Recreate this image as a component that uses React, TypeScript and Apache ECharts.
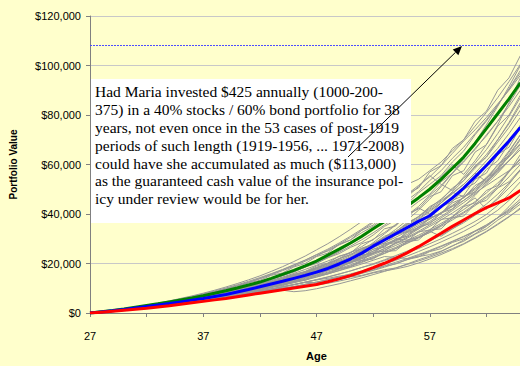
import React, { useEffect, useRef } from "react";
import * as echarts from "echarts";

// Ages on the category axis (axis runs to 67; the picture is cropped near 65)
const ages = [27, 28, 29, 30, 31, 32, 33, 34, 35, 36, 37, 38, 39, 40, 41, 42, 43, 44, 45, 46, 47, 48, 49, 50, 51, 52, 53, 54, 55, 56, 57, 58, 59, 60, 61, 62, 63, 64, 65, 66, 67];
const shownAgeLabels = [27, 37, 47, 57];

// Highlighted cases (portfolio value, thousands of $)
const greenCase = [0, 0.5, 1.0, 1.6, 2.3, 3.0, 3.7, 4.5, 5.3, 6.1, 7.0, 8.0, 9.0, 10.1, 11.3, 12.5, 14.0, 15.6, 17.2, 19.0, 21.0, 23.4, 25.8, 28.3, 31.0, 34.0, 37.0, 40.0, 43.2, 46.5, 50.0, 54.0, 58.5, 63.0, 68.5, 74.5, 80.5, 86.5, 93.0];
const blueCase = [0, 0.45, 0.9, 1.4, 2.0, 2.6, 3.2, 3.8, 4.5, 5.2, 5.9, 6.7, 7.5, 8.5, 9.5, 10.6, 11.7, 12.8, 14.0, 15.2, 16.5, 18.0, 19.8, 21.8, 24.2, 27.0, 29.5, 32.0, 34.5, 37.0, 39.3, 43.0, 46.5, 50.5, 55.0, 59.6, 64.5, 69.5, 75.0];
const redCase = [0, 0.35, 0.7, 1.1, 1.5, 1.9, 2.4, 2.9, 3.5, 4.1, 4.7, 5.3, 5.9, 6.6, 7.3, 8.0, 8.7, 9.4, 10.1, 10.8, 11.5, 12.6, 13.8, 15.1, 16.6, 18.3, 20.1, 22.1, 24.3, 26.8, 29.5, 32.2, 35.0, 37.6, 40.2, 42.6, 44.5, 46.5, 49.5];

// Other historical periods (thousands of $)
const gray1 = [0, 0.5, 1.0, 1.6, 2.3, 3.0, 3.8, 4.6, 5.6, 6.4, 7.5, 8.3, 9.6, 10.6, 12.2, 13.2, 15.2, 16.2, 18.6, 20.0, 22.8, 24.2, 27.8, 29.5, 33.5, 35.5, 40.0, 42.5, 48.0, 50.5, 57.0, 59.5, 66.5, 70.0, 77.5, 81.5, 90.0, 95.0, 104.0];
const gray2 = [0, 0.5, 1.0, 1.5, 2.2, 2.9, 3.5, 4.3, 5.0, 5.9, 6.9, 7.7, 8.8, 9.8, 11.1, 12.2, 13.8, 15.0, 16.9, 18.5, 20.8, 22.5, 25.0, 27.9, 30.5, 34.0, 36.5, 40.5, 44.0, 48.5, 52.0, 55.5, 61.0, 65.5, 72.0, 77.5, 84.0, 90.5, 98.0];
const gray3 = [0, 0.45, 0.95, 1.5, 2.1, 2.8, 3.4, 4.1, 4.9, 5.7, 6.5, 7.3, 8.3, 9.3, 10.3, 11.5, 12.6, 14.0, 15.6, 16.8, 19.0, 20.2, 23.0, 24.2, 28.0, 29.5, 34.0, 35.2, 40.0, 42.0, 47.0, 49.0, 55.5, 57.5, 65.0, 68.0, 75.5, 80.0, 88.0];
const gray4 = [0, 0.5, 0.95, 1.5, 2.1, 2.7, 3.4, 4.0, 4.8, 5.5, 6.4, 7.2, 8.1, 9.0, 10.2, 11.2, 12.5, 13.6, 15.1, 16.5, 18.2, 20.0, 22.0, 24.5, 26.8, 29.8, 32.5, 35.8, 39.0, 42.5, 40.0, 44.5, 49.0, 53.5, 58.5, 63.0, 69.0, 75.0, 82.0];
const gray5 = [0, 0.45, 0.9, 1.45, 2.0, 2.6, 3.3, 3.9, 4.6, 5.4, 6.1, 6.9, 7.8, 8.7, 9.8, 10.8, 12.0, 13.2, 14.3, 15.8, 17.2, 18.6, 20.6, 22.4, 25.0, 27.3, 30.0, 32.4, 35.5, 38.2, 41.5, 44.5, 48.5, 52.0, 56.5, 61.5, 66.5, 72.5, 79.0];
const gray6 = [0, 0.4, 0.85, 1.35, 1.9, 2.5, 3.1, 3.7, 4.4, 5.1, 5.8, 6.5, 7.4, 8.2, 9.2, 10.2, 11.2, 12.4, 13.8, 14.5, 16.5, 17.2, 19.6, 20.4, 23.5, 24.2, 28.0, 29.0, 32.8, 34.5, 38.5, 40.0, 44.5, 46.5, 51.5, 54.0, 60.0, 63.5, 70.0];
const gray7 = [0, 0.45, 0.9, 1.4, 2.0, 2.6, 3.2, 3.9, 4.6, 5.3, 6.1, 6.9, 7.8, 8.8, 9.8, 11.0, 12.2, 13.5, 14.9, 16.4, 18.0, 19.8, 21.5, 20.5, 22.5, 25.0, 27.0, 29.5, 31.0, 34.0, 36.5, 39.0, 42.0, 45.5, 49.0, 53.0, 57.0, 61.5, 66.0];
const gray8 = [0, 0.4, 0.85, 1.3, 1.85, 2.4, 3.0, 3.6, 4.2, 4.9, 5.6, 6.3, 7.1, 7.9, 8.8, 9.8, 10.8, 11.8, 12.6, 14.6, 15.2, 17.5, 18.0, 20.8, 21.2, 24.5, 25.0, 28.5, 29.0, 32.8, 33.5, 37.8, 38.5, 43.0, 44.5, 49.5, 51.5, 57.5, 62.0];
const gray9 = [0, 0.4, 0.8, 1.25, 1.75, 2.3, 2.9, 3.5, 4.1, 4.8, 5.5, 6.2, 6.9, 7.7, 8.6, 9.2, 10.6, 11.0, 12.8, 13.2, 15.2, 15.8, 18.0, 18.6, 21.2, 21.8, 24.8, 25.2, 28.8, 29.5, 33.5, 34.0, 38.5, 39.2, 44.0, 45.5, 50.5, 53.0, 58.0];
const gray10 = [0, 0.4, 0.8, 1.25, 1.7, 2.2, 2.8, 3.3, 3.9, 4.5, 5.1, 5.8, 6.5, 7.2, 8.0, 8.8, 9.6, 10.5, 11.4, 12.4, 13.4, 14.5, 15.7, 17.0, 18.4, 19.9, 21.5, 23.2, 25.0, 27.0, 29.0, 31.5, 34.0, 36.5, 39.5, 42.5, 46.0, 50.5, 55.0];
const gray11 = [0, 0.38, 0.78, 1.2, 1.65, 2.15, 2.7, 3.2, 3.8, 4.4, 5.0, 5.6, 6.2, 6.9, 7.6, 8.3, 9.1, 9.9, 10.7, 11.6, 12.5, 13.5, 14.6, 15.8, 17.0, 18.3, 19.8, 21.3, 23.0, 24.8, 26.7, 28.7, 30.8, 33.0, 35.5, 38.5, 41.5, 45.5, 50.0];
const gray12 = [0, 0.38, 0.76, 1.18, 1.62, 2.1, 2.6, 3.1, 3.65, 4.2, 4.8, 5.4, 6.0, 6.6, 7.3, 8.0, 8.7, 9.4, 10.2, 11.0, 11.8, 12.7, 13.7, 14.8, 16.0, 17.2, 18.5, 20.0, 21.5, 23.2, 25.0, 26.8, 28.8, 30.8, 33.0, 35.5, 38.5, 41.5, 45.0];
const gray13 = [0, 0.5, 1.0, 1.55, 2.2, 2.8, 3.5, 4.3, 5.2, 6.0, 6.8, 7.8, 8.8, 10.0, 11.0, 12.0, 13.6, 15.2, 16.5, 18.6, 20.0, 22.3, 24.0, 26.5, 28.5, 31.5, 35.0, 37.5, 41.5, 45.0, 48.0, 53.0, 56.5, 61.5, 66.0, 72.0, 77.5, 84.5, 92.0];
const gray14 = [0, 0.45, 0.95, 1.45, 2.05, 2.7, 3.3, 4.0, 4.7, 5.5, 6.3, 7.1, 8.0, 9.0, 10.0, 11.1, 12.3, 13.5, 14.8, 16.2, 17.8, 19.4, 21.2, 23.2, 25.4, 27.8, 30.4, 33.0, 36.0, 39.0, 42.5, 46.0, 50.0, 54.5, 59.0, 64.0, 70.0, 77.0, 85.0];
const gray15 = [0, 0.45, 0.9, 1.4, 1.95, 2.6, 3.2, 3.9, 4.6, 5.3, 6.0, 6.8, 7.7, 8.6, 9.6, 10.7, 11.8, 13.0, 14.3, 15.7, 17.2, 18.8, 20.5, 22.4, 24.4, 26.8, 29.2, 31.8, 34.8, 37.8, 41.0, 44.5, 48.2, 52.0, 56.5, 53.0, 58.5, 65.0, 72.0];
const gray16 = [0, 0.4, 0.85, 1.35, 1.9, 2.45, 3.05, 3.65, 4.3, 5.0, 5.7, 6.4, 7.2, 8.0, 8.9, 9.9, 10.9, 12.0, 13.1, 14.3, 15.6, 17.0, 18.5, 20.2, 22.0, 24.0, 26.0, 28.3, 30.6, 33.0, 35.6, 38.4, 41.4, 44.6, 48.0, 52.0, 56.5, 61.5, 67.0];
const gray17 = [0, 0.4, 0.82, 1.28, 1.8, 2.35, 2.9, 3.5, 4.1, 4.8, 5.4, 6.1, 6.8, 7.6, 8.4, 9.3, 10.2, 11.2, 12.2, 13.3, 14.5, 15.8, 17.2, 18.8, 20.4, 22.2, 24.0, 26.0, 28.3, 30.5, 33.0, 31.0, 34.0, 37.0, 40.5, 44.0, 48.0, 52.5, 57.5];
const gray18 = [0, 0.5, 1.0, 1.55, 2.15, 2.8, 3.5, 4.2, 5.0, 5.8, 6.7, 7.6, 8.6, 9.6, 10.7, 11.9, 13.2, 14.5, 16.0, 17.6, 19.3, 21.0, 22.8, 24.5, 26.0, 27.8, 29.5, 31.5, 33.5, 36.0, 38.0, 40.5, 43.0, 45.5, 48.5, 51.5, 54.5, 57.5, 61.0];
const gray19 = [0, 0.45, 0.9, 1.4, 1.95, 2.55, 3.2, 3.85, 4.5, 5.2, 6.0, 6.8, 7.6, 8.5, 9.5, 10.5, 11.6, 12.8, 14.0, 15.4, 16.9, 18.6, 20.4, 22.5, 24.8, 27.5, 30.5, 33.8, 37.5, 41.5, 46.0, 51.0, 56.5, 62.5, 69.0, 76.0, 83.5, 91.5, 100.0];
const gray20 = [0, 0.5, 1.0, 1.55, 2.15, 2.8, 3.5, 4.25, 5.05, 5.9, 6.8, 7.7, 8.7, 9.8, 11.0, 12.3, 13.7, 15.2, 16.8, 18.5, 20.4, 22.4, 24.6, 27.0, 29.6, 32.4, 35.5, 38.8, 42.4, 46.3, 50.5, 55.0, 59.8, 56.0, 61.5, 68.0, 76.0, 85.0, 95.0];
const gray21 = [0, 0.45, 0.9, 1.4, 1.95, 2.5, 3.1, 3.8, 4.5, 5.3, 6.0, 6.9, 7.7, 8.7, 9.6, 10.8, 11.8, 13.2, 14.2, 15.9, 17.0, 19.0, 20.2, 22.6, 24.0, 26.8, 28.2, 31.5, 33.0, 36.8, 38.6, 43.0, 45.0, 50.0, 52.5, 58.0, 61.5, 68.5, 76.0];
const gray22 = [0, 0.42, 0.85, 1.3, 1.8, 2.35, 2.95, 3.55, 4.2, 4.9, 5.6, 6.3, 7.1, 7.9, 8.8, 9.7, 10.7, 11.7, 12.8, 14.0, 15.3, 16.5, 18.0, 19.5, 21.2, 22.8, 24.8, 26.5, 28.8, 30.8, 33.2, 35.5, 38.2, 40.8, 44.0, 47.2, 51.0, 57.0, 64.0];
const gray23 = [0, 0.38, 0.8, 1.22, 1.68, 2.18, 2.72, 3.28, 3.86, 4.48, 5.1, 5.8, 6.5, 7.2, 8.0, 8.8, 9.7, 10.6, 11.5, 12.5, 13.5, 14.6, 15.8, 17.0, 18.4, 19.6, 21.2, 22.6, 24.4, 26.0, 28.0, 30.0, 32.2, 34.5, 37.0, 39.8, 43.5, 48.0, 53.0];
const gray24 = [0, 0.5, 1.0, 1.55, 2.15, 2.8, 3.5, 4.2, 5.0, 5.8, 6.7, 7.6, 8.6, 9.6, 10.7, 11.8, 13.0, 14.3, 15.6, 16.5, 17.2, 18.4, 20.2, 22.5, 25.2, 28.4, 32.0, 35.5, 39.5, 43.0, 47.5, 51.5, 56.5, 61.0, 66.5, 71.5, 77.5, 83.5, 90.0];
const gray25 = [0, 0.45, 0.9, 1.4, 1.95, 2.55, 3.15, 3.8, 4.5, 5.2, 5.9, 6.7, 7.5, 8.4, 9.3, 10.3, 11.3, 12.4, 13.6, 14.8, 16.1, 17.5, 19.0, 20.6, 22.3, 24.1, 26.0, 28.0, 30.2, 32.5, 35.0, 37.6, 40.4, 43.4, 46.5, 42.0, 46.5, 52.0, 58.0];
const gray26 = [0, 0.42, 0.88, 1.38, 1.92, 2.5, 3.1, 3.75, 4.4, 5.1, 5.85, 6.6, 7.45, 8.3, 9.25, 10.2, 11.3, 12.4, 13.6, 14.9, 16.2, 17.8, 19.3, 21.1, 22.9, 25.0, 27.0, 29.4, 31.7, 34.5, 37.0, 40.2, 43.2, 46.8, 50.5, 54.8, 59.5, 65.5, 72.0];
const gray27 = [0, 0.48, 0.98, 1.5, 2.05, 2.7, 3.35, 4.05, 4.8, 5.55, 6.4, 7.2, 8.2, 9.1, 10.2, 11.2, 12.6, 13.7, 15.3, 16.6, 18.5, 19.8, 22.0, 23.5, 26.2, 27.8, 31.0, 32.8, 36.5, 38.8, 43.0, 45.5, 50.5, 53.5, 59.5, 63.0, 70.0, 76.5, 84.0];
const gray28 = [0, 0.38, 0.78, 1.2, 1.64, 2.12, 2.64, 3.18, 3.74, 4.32, 4.92, 5.55, 6.2, 6.88, 7.6, 8.35, 9.1, 9.9, 10.7, 11.6, 12.5, 13.4, 14.4, 15.5, 16.6, 17.8, 19.1, 20.5, 22.0, 23.6, 25.3, 27.1, 29.0, 31.0, 33.2, 35.6, 38.5, 43.0, 48.0];
const gray29 = [0, 0.45, 0.92, 1.42, 1.98, 2.6, 3.25, 3.95, 4.7, 5.5, 6.35, 7.2, 8.15, 9.1, 10.2, 11.3, 12.5, 13.8, 15.2, 16.7, 18.3, 20.0, 21.8, 23.7, 25.8, 28.0, 30.5, 33.0, 35.8, 38.8, 42.0, 45.2, 48.8, 47.0, 50.5, 54.5, 58.5, 63.0, 68.0];
const gray30 = [0, 0.42, 0.84, 1.3, 1.8, 2.34, 2.9, 3.5, 4.14, 4.8, 5.5, 6.22, 7.0, 7.8, 8.65, 9.55, 10.5, 11.5, 12.6, 13.7, 14.9, 16.2, 17.6, 19.1, 20.7, 22.4, 24.2, 26.1, 28.1, 30.3, 32.6, 35.0, 37.6, 40.4, 43.4, 46.6, 50.4, 55.0, 60.0];
const gray31 = [0, 0.5, 1.05, 1.7, 2.4, 3.2, 4.0, 4.9, 5.9, 6.9, 8.0, 9.2, 10.5, 11.9, 13.4, 15.0, 16.8, 18.7, 20.8, 23.0, 25.5, 28.0, 30.8, 33.8, 37.0, 40.5, 44.2, 48.0, 52.0, 54.0, 57.5, 61.0, 65.5, 70.0, 75.5, 81.0, 87.0, 93.5, 100.5];
const gray32 = [0, 0.5, 1.0, 1.65, 2.35, 3.1, 3.9, 4.75, 5.7, 6.7, 7.75, 8.9, 10.1, 11.4, 12.8, 14.3, 15.9, 17.6, 19.5, 21.4, 23.6, 25.8, 28.3, 31.0, 33.9, 37.0, 40.4, 44.0, 47.9, 51.5, 55.0, 59.5, 64.5, 69.5, 74.0, 79.0, 84.5, 90.0, 96.0];
const gray33 = [0, 0.48, 1.0, 1.6, 2.25, 2.95, 3.7, 4.5, 5.35, 6.3, 7.3, 8.4, 9.6, 10.9, 12.3, 13.8, 15.4, 17.1, 18.9, 20.9, 23.0, 25.4, 27.8, 30.5, 33.4, 36.5, 39.8, 43.5, 47.0, 51.0, 55.5, 52.0, 49.5, 55.0, 60.5, 66.0, 72.5, 79.5, 87.0];
const gray34 = [0, 0.5, 1.02, 1.62, 2.3, 3.0, 3.8, 4.6, 5.5, 6.5, 7.5, 8.6, 9.8, 11.1, 12.5, 14.0, 15.7, 17.4, 19.3, 21.3, 23.5, 25.0, 27.5, 29.5, 32.5, 35.0, 38.5, 41.5, 45.5, 49.0, 53.5, 57.5, 62.5, 67.0, 72.5, 78.0, 84.0, 90.5, 97.0];
const gray35 = [0, 0.4, 0.82, 1.28, 1.78, 2.3, 2.85, 3.45, 4.05, 4.7, 5.35, 6.05, 6.75, 7.5, 8.25, 9.0, 9.6, 9.2, 8.6, 9.0, 9.8, 10.8, 11.8, 13.0, 14.2, 15.5, 16.8, 18.2, 19.6, 21.0, 22.5, 24.2, 26.0, 28.0, 30.5, 33.0, 36.0, 39.0, 42.0];
const gray36 = [0, 0.38, 0.78, 1.2, 1.66, 2.15, 2.67, 3.22, 3.8, 4.4, 5.03, 5.68, 6.36, 7.07, 7.8, 8.56, 9.35, 10.15, 10.5, 10.8, 11.3, 12.0, 12.9, 13.9, 15.0, 16.2, 17.0, 17.8, 18.8, 20.2, 21.8, 23.6, 25.6, 27.8, 30.2, 32.8, 35.7, 38.8, 42.5];
const gray37 = [0, 0.4, 0.8, 1.24, 1.72, 2.22, 2.76, 3.32, 3.92, 4.55, 5.2, 5.9, 6.6, 7.35, 8.1, 8.9, 9.7, 10.6, 11.5, 12.4, 12.2, 12.8, 13.5, 14.6, 15.2, 16.4, 17.5, 18.2, 19.8, 21.5, 23.0, 24.8, 27.2, 29.0, 31.8, 34.0, 37.5, 40.5, 44.0];
const gray38 = [0, 0.4, 0.82, 1.26, 1.75, 2.27, 2.83, 3.42, 4.05, 4.7, 5.4, 6.1, 6.85, 7.65, 8.5, 9.4, 10.35, 11.35, 12.4, 13.5, 14.6, 15.8, 17.1, 18.4, 19.8, 21.3, 22.8, 22.5, 22.0, 22.8, 23.6, 25.0, 27.0, 29.5, 32.0, 35.0, 38.5, 42.0, 46.0];
const gray39 = [0, 0.39, 0.8, 1.23, 1.7, 2.2, 2.73, 3.3, 3.9, 4.52, 5.17, 5.85, 6.56, 7.3, 8.07, 8.87, 9.7, 10.57, 11.47, 12.4, 13.37, 14.0, 14.9, 15.5, 16.6, 17.4, 18.9, 19.8, 21.6, 22.6, 24.8, 26.0, 28.5, 30.0, 33.0, 35.0, 38.5, 41.0, 45.0];
const gray40 = [0, 0.45, 0.92, 1.43, 2.0, 2.6, 3.25, 3.92, 4.65, 5.4, 6.2, 7.05, 7.95, 8.9, 9.9, 10.5, 11.8, 12.4, 14.0, 14.6, 16.6, 17.2, 19.6, 20.4, 23.2, 24.0, 27.5, 28.5, 32.5, 33.8, 38.5, 40.0, 45.5, 47.5, 54.0, 56.5, 64.0, 67.0, 75.0];
const gray41 = [0, 0.43, 0.88, 1.36, 1.88, 2.45, 3.05, 3.68, 4.35, 5.05, 5.8, 6.6, 7.42, 8.3, 9.22, 10.2, 11.25, 12.35, 13.5, 14.72, 16.0, 17.35, 18.78, 20.3, 21.9, 23.6, 25.4, 27.3, 29.3, 31.4, 33.7, 36.2, 38.9, 41.8, 45.0, 48.5, 52.5, 57.0, 62.5];
const gray42 = [0, 0.45, 0.9, 1.4, 1.95, 2.55, 3.2, 3.88, 4.6, 5.35, 6.15, 7.0, 7.9, 8.85, 9.85, 10.9, 12.0, 13.2, 14.45, 15.8, 17.2, 18.7, 20.3, 22.0, 23.8, 25.7, 27.7, 29.8, 29.5, 30.5, 32.5, 35.5, 39.0, 43.0, 47.5, 52.5, 58.0, 64.0, 70.5];
const gray43 = [0, 0.46, 0.94, 1.46, 2.02, 2.62, 3.26, 3.95, 4.68, 5.45, 6.27, 7.13, 8.05, 9.02, 10.05, 11.13, 12.28, 13.5, 14.8, 16.17, 17.62, 19.16, 20.8, 22.55, 24.4, 26.35, 28.42, 30.6, 32.9, 35.3, 37.9, 40.6, 43.5, 46.6, 49.9, 53.5, 57.4, 61.6, 66.0];
const gray44 = [0, 0.44, 0.9, 1.4, 1.93, 2.5, 3.1, 3.75, 4.43, 5.15, 5.9, 6.7, 7.2, 8.4, 8.9, 10.5, 10.8, 12.9, 13.3, 15.6, 16.0, 18.6, 19.0, 22.0, 22.5, 25.8, 26.5, 30.0, 31.0, 34.8, 36.0, 40.5, 42.0, 47.0, 49.0, 54.5, 57.5, 63.5, 68.5];
const grayCases = [gray1, gray2, gray3, gray4, gray5, gray6, gray7, gray8, gray9, gray10, gray11, gray12, gray13, gray14, gray15, gray16, gray17, gray18, gray19, gray20, gray21, gray22, gray23, gray24, gray25, gray26, gray27, gray28, gray29, gray30, gray31, gray32, gray33, gray34, gray35, gray36, gray37, gray38, gray39, gray40, gray41, gray42, gray43, gray44];

// Reference level (dotted line), $
const targetValue = 108000;

// Y axis ticks
const yMin = 0;
const yMax = 120000;
const yStep = 20000;

const noteLines = [
  "Had Maria invested $425 annually (1000-200-",
  "375) in a 40% stocks / 60% bond portfolio for 38",
  "years, not even once in the 53 cases of post-1919",
  "periods of such length (1919-1956, ... 1971-2008)",
  "could have she accumulated as much ($113,000)",
  "as the guaranteed cash value of the insurance pol-",
  "icy under review would be for her.",
];

const toDollars = (arr: number[]) => arr.map((v) => v * 1000);

export default function App() {
  const ref = useRef<HTMLDivElement>(null);

  useEffect(() => {
    if (!ref.current) return;
    const chart = echarts.init(ref.current, undefined, { renderer: "svg" });

    const graySeries = grayCases.map((arr, i) => ({
      name: "case" + (i + 1),
      type: "line",
      data: toDollars(arr),
      showSymbol: false,
      symbol: "none",
      lineStyle: { color: "#979797", width: 1 },
      z: 2,
      silent: true,
    }));

    // arrow geometry (annotation)
    const ax1 = 348, ay1 = 157, ax2 = 462, ay2 = 46;
    const dx = ax2 - ax1, dy = ay2 - ay1;
    const len = Math.sqrt(dx * dx + dy * dy);
    const ux = dx / len, uy = dy / len;
    const hl = 9, hw = 4;
    const bx = ax2 - ux * hl, by = ay2 - uy * hl;
    const px = -uy, py = ux;

    const font = "Arial, 'Liberation Sans', sans-serif";

    chart.setOption({
      animation: false,
      backgroundColor: "#FFFFCC",
      grid: { left: 90, right: 17, top: 16, bottom: 44, containLabel: false },
      xAxis: {
        type: "category",
        data: ages.map(String),
        boundaryGap: false,
        name: "Age",
        nameLocation: "middle",
        nameGap: 37,
        nameTextStyle: { fontFamily: font, fontSize: 11, fontWeight: "bold", color: "#000" },
        axisLine: { lineStyle: { color: "#808080", width: 1 } },
        axisTick: { show: true, interval: 4, length: 4, inside: false, lineStyle: { color: "#808080" } },
        axisLabel: {
          interval: (index: number, value: string) => shownAgeLabels.includes(Number(value)),
          margin: 17,
          fontFamily: font,
          fontSize: 11,
          color: "#000",
        },
        splitLine: { show: false },
      },
      yAxis: {
        type: "value",
        min: yMin,
        max: yMax,
        interval: yStep,
        name: "Portfolio Value",
        nameLocation: "middle",
        nameGap: 72,
        nameRotate: 90,
        nameTextStyle: { fontFamily: font, fontSize: 10, fontWeight: "bold", color: "#000" },
        axisLine: { show: true, lineStyle: { color: "#808080", width: 1 } },
        axisTick: { show: true, length: 4, inside: false, lineStyle: { color: "#808080" } },
        axisLabel: {
          margin: 9,
          fontFamily: font,
          fontSize: 11,
          color: "#000",
          formatter: (v: number) => "$" + v.toLocaleString("en-US"),
        },
        splitLine: { show: true, lineStyle: { color: "#C8C8C8", width: 1 } },
      },
      series: [
        ...graySeries,
        {
          name: "green",
          type: "line",
          data: toDollars(greenCase),
          showSymbol: false,
          symbol: "none",
          lineStyle: { color: "#008000", width: 3 },
          z: 3,
        },
        {
          name: "blue",
          type: "line",
          data: toDollars(blueCase),
          showSymbol: false,
          symbol: "none",
          lineStyle: { color: "#0000FF", width: 3 },
          z: 4,
        },
        {
          name: "red",
          type: "line",
          data: toDollars(redCase),
          showSymbol: false,
          symbol: "none",
          lineStyle: { color: "#FF0000", width: 3 },
          z: 5,
          markLine: {
            silent: true,
            symbol: ["none", "none"],
            label: { show: false },
            lineStyle: { color: "#4D4DFF", type: [2, 1], width: 1 },
            data: [{ yAxis: targetValue }],
          },
        },
      ],
      graphic: [
        {
          type: "rect",
          z: 100,
          shape: { x: 91, y: 79, width: 320, height: 144 },
          style: { fill: "#FFFFFF", stroke: "none" },
        },
        {
          type: "text",
          z: 101,
          x: 95,
          y: 83,
          style: {
            text: noteLines.join("\n"),
            fontFamily: "'Liberation Serif', 'Times New Roman', serif",
            fontSize: 15.5,
            lineHeight: 17.8,
            fill: "#000",
            verticalAlign: "top",
          },
        },
        {
          type: "line",
          z: 102,
          shape: { x1: ax1, y1: ay1, x2: bx, y2: by },
          style: { stroke: "#000", lineWidth: 1 },
        },
        {
          type: "polygon",
          z: 102,
          shape: {
            points: [
              [ax2, ay2],
              [bx + px * hw, by + py * hw],
              [bx - px * hw, by - py * hw],
            ],
          },
          style: { fill: "#000" },
        },
      ],
    });

    return () => chart.dispose();
  }, []);

  return (
    <div style={{ position: "fixed", left: 0, top: 0, width: 520, height: 366, overflow: "hidden", background: "#FFFFCC" }}>
      <div ref={ref} style={{ width: 560, height: 366 }} />
    </div>
  );
}
